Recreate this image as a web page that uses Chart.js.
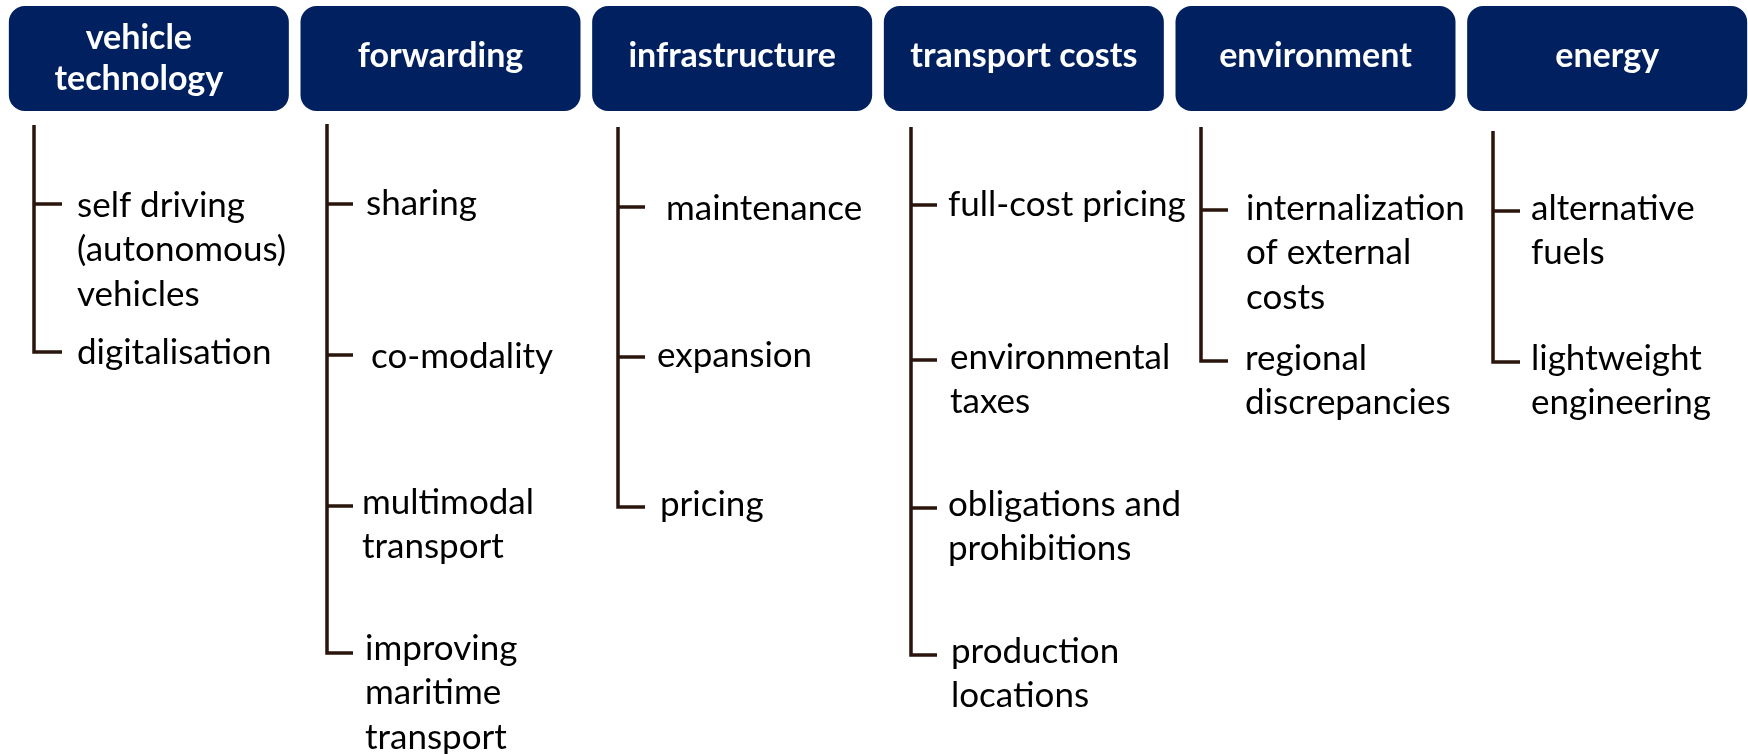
<!DOCTYPE html>
<html>
<head>
<meta charset="utf-8">
<script src="https://cdn.jsdelivr.net/npm/chart.js@4.4.1/dist/chart.umd.min.js"></script>
<style>
  html, body { margin: 0; padding: 0; background: #ffffff; overflow: hidden; }
  #wrap { width: 1748px; height: 754px; overflow: hidden; }
</style>
</head>
<body>
<div id="wrap"><canvas id="tree" width="1753" height="754"></canvas></div>
<script>
// categories (header boxes) and the items hanging under each of them
const categories = [
    ['vehicle', 'technology'],
    ['forwarding'],
    ['infrastructure'],
    ['transport costs'],
    ['environment'],
    ['energy']
];
const vehicleTechnology = [['self driving', '(autonomous)', 'vehicles'], ['digitalisation']];
const forwarding = [['sharing'], ['co-modality'], ['multimodal', 'transport'], ['improving', 'maritime', 'transport']];
const infrastructure = [['maintenance'], ['expansion'], ['pricing']];
const transportCosts = [['full-cost pricing'], ['environmental', 'taxes'], ['obligations and', 'prohibitions'], ['production', 'locations']];
const environment = [['internalization', 'of external', 'costs'], ['regional', 'discrepancies']];
const energy = [['alternative', 'fuels'], ['lightweight', 'engineering']];

const columns = [vehicleTechnology, forwarding, infrastructure, transportCosts, environment, energy];

// layout only (page pixels): trunk x, trunk top, tick end, text x, tick y, first text line y
const headerSpan = [6, 111];
const headerLineY = { 1: [58], 2: [40, 81] };
const headerDx = [-10, 0, 0, 0, 0, 0];
const trunkX = [34, 327, 618, 911, 1201, 1493];
const trunkTop = [125, 124, 127, 127, 127, 131];
const tickEnd = [62, 353, 645, 937, 1228, 1520];
const textX = [
    [77, 77],
    [366, 371, 362, 365],
    [666, 657, 660],
    [948, 950, 948, 951],
    [1246, 1245],
    [1531, 1531]
];
const tickY = [
    [204, 352],
    [204, 355, 506, 653],
    [207, 357, 507],
    [205, 360, 508, 655],
    [210, 361],
    [211, 362]
];
const textY = [
    [208, 355],
    [206, 359, 505, 651],
    [211, 358, 507],
    [207, 360, 507, 654],
    [211, 361],
    [211, 361]
];
const lineGap = 44.5;

const lineColor = '#2a150c';
const boxColor = '#002060';

// build the bracket lines, one dataset per column
const lineSets = columns.map((items, c) => {
    const last = tickY[c][tickY[c].length - 1];
    const pts = [
        { x: trunkX[c], y: trunkTop[c] },
        { x: trunkX[c], y: last },
        { x: tickEnd[c], y: last }
    ];
    tickY[c].slice(0, -1).forEach(t => {
        pts.push({ x: trunkX[c], y: null });
        pts.push({ x: trunkX[c], y: t });
        pts.push({ x: tickEnd[c], y: t });
    });
    return {
        type: 'line',
        xAxisID: 'x2',
        yAxisID: 'y',
        data: pts,
        borderColor: lineColor,
        borderWidth: 3.5,
        borderJoinStyle: 'miter',
        pointRadius: 0,
        spanGaps: false,
        tension: 0
    };
});

const textPlugin = {
    id: 'treeText',
    afterDatasetsDraw(chart) {
        const ctx = chart.ctx;
        const xs = chart.scales.x2;
        const ys = chart.scales.y;
        const bars = chart.getDatasetMeta(0).data;
        ctx.save();
        // header labels
        ctx.fillStyle = '#ffffff';
        ctx.font = 'bold 34px Lato';
        ctx.textAlign = 'center';
        ctx.textBaseline = 'alphabetic';
        categories.forEach((lines, i) => {
            const ly = headerLineY[lines.length];
            lines.forEach((s, k) => {
                ctx.fillText(s, bars[i].x + headerDx[i], ys.getPixelForValue(ly[k]) + 8.6);
            });
        });
        // item labels
        ctx.fillStyle = '#000000';
        ctx.font = '35px Lato';
        ctx.textAlign = 'left';
        columns.forEach((items, c) => {
            items.forEach((lines, j) => {
                lines.forEach((s, k) => {
                    const y = ys.getPixelForValue(textY[c][j] + k * lineGap) + 8.9;
                    ctx.fillText(s, xs.getPixelForValue(textX[c][j]), y);
                });
            });
        });
        ctx.restore();
    }
};

new Chart(document.getElementById('tree'), {
    type: 'bar',
    data: {
        labels: categories.map(l => l.join(' ')),
        datasets: [{
            data: categories.map(() => headerSpan),
            backgroundColor: boxColor,
            borderRadius: 16,
            borderSkipped: false,
            grouped: false,
            barPercentage: 1,
            categoryPercentage: 0.96,
            xAxisID: 'x',
            yAxisID: 'y'
        }].concat(lineSets)
    },
    options: {
        responsive: false,
        devicePixelRatio: 1,
        animation: false,
        layout: { padding: { left: 3, right: 0, top: 0, bottom: 0 } },
        plugins: { legend: { display: false }, tooltip: { enabled: false } },
        scales: {
            x: { type: 'category', display: false, offset: true },
            x2: { type: 'linear', display: false, offset: false, min: 3, max: 1753 },
            y: { type: 'linear', display: false, offset: false, min: 0, max: 754, reverse: true }
        }
    },
    plugins: [textPlugin]
});
</script>
</body>
</html>
